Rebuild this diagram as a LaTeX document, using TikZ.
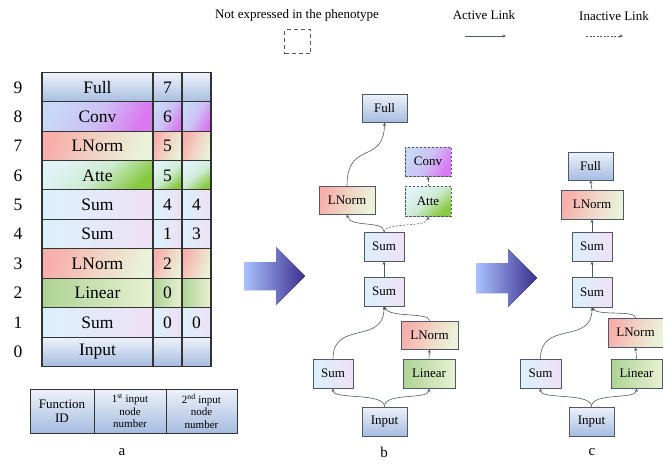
\documentclass[tikz,border=0pt]{standalone}
\usepackage{fontspec}
\setmainfont{Liberation Serif}
\usetikzlibrary{arrows.meta}
\definecolor{fullT}{HTML}{EEF2FA}
\definecolor{fullB}{HTML}{A6BCE0}
\definecolor{sumL}{HTML}{DAF1FB}
\definecolor{sumR}{HTML}{EFE0F5}
\definecolor{lnL}{HTML}{F8AEAA}
\definecolor{lnR}{HTML}{EAF3DA}
\definecolor{linL}{HTML}{AED396}
\definecolor{linR}{HTML}{E8F1D2}
\definecolor{atL}{HTML}{E0F4F8}
\definecolor{atR}{HTML}{86C83E}
\definecolor{cvL}{HTML}{C8D8F6}
\definecolor{cvR}{HTML}{DA78F0}
\definecolor{edge}{HTML}{4E586A}
\definecolor{arrL}{HTML}{AAC2FF}
\definecolor{arrR}{HTML}{3A2F8E}
\tikzset{
  fullsh/.style={top color=fullT, bottom color=fullB},
  sumsh/.style={left color=sumL, right color=sumR},
  lnsh/.style={left color=lnL, right color=lnR, middle color=lnL!45!lnR, shading angle=70},
  linsh/.style={left color=linL, right color=linR},
  atsh/.style={left color=atL, right color=atR, middle color=atL!80!atR, shading angle=40},
  cvsh/.style={left color=cvL, right color=cvR, middle color=cvL!75!cvR, shading angle=60},
  gnode/.style={draw=edge, line width=0.8pt, inner sep=0pt, font=\fontsize{13}{15}\selectfont},
  hid/.style={gnode, dashed, dash pattern=on 2.5pt off 1.5pt},
  link/.style={draw=edge, line width=0.6pt, -{Stealth[length=3.5pt,width=3pt]}},
  ilink/.style={link, dash pattern=on 2pt off 1.5pt},
  cell/.style={draw=black!80, line width=1.1pt, inner sep=0pt, font=\fontsize{17.5}{20}\selectfont},
  rowno/.style={font=\fontsize{17.5}{20}\selectfont},
  bigarrow/.style={left color=arrL, right color=arrR, draw=none},
}
\begin{document}
\begin{tikzpicture}[x=1pt,y=-1pt]
\useasboundingbox (0,0) rectangle (663,464);
% ---------- legend ----------
\node[font=\fontsize{13}{15}\selectfont] (lg1) at (297,15) {Not expressed in the phenotype};
\node[draw=edge, line width=0.8pt, dash pattern=on 4pt off 3pt, minimum width=26pt, minimum height=24pt, inner sep=0pt] (lgbox) at (297.5,41.5) {};
\node[font=\fontsize{13}{15}\selectfont] (lg2) at (484,15) {Active Link};
\coordinate (a1) at (465,36); \coordinate (a2) at (506,36);
\draw[link] (a1) -- (a2);
\node[font=\fontsize{13}{15}\selectfont] (lg3) at (614,16) {Inactive Link};
\coordinate (i1) at (586,36); \coordinate (i2) at (623,36);
\draw[ilink] (i1) -- (i2);
% ---------- table a ----------
\foreach \r/\y/\f/\sh/\p/\q in {9/87.5/Full/fullsh/7/, 8/116.5/Conv/cvsh/6/, 7/146/LNorm/lnsh/5/, 6/175.5/Atte/atsh/5/, 5/204.5/Sum/sumsh/4/4, 4/234/Sum/sumsh/1/3, 3/263.5/LNorm/lnsh/2/, 2/293/Linear/linsh/0/, 1/322.5/Sum/sumsh/0/0, 0/352/Input/fullsh//}{
  \node[cell, \sh, minimum width=111pt, minimum height=29.4pt] (f\r) at (97.5,\y) {\f};
  \node[cell, \sh, minimum width=29pt, minimum height=29.4pt] (p\r) at (167.5,\y) {\p};
  \node[cell, \sh, minimum width=29pt, minimum height=29.4pt] (q\r) at (196.5,\y) {\q};
  \node[rowno] (n\r) at (18,\y) {\r};
}
% legend table
\node[cell, fullsh, line width=1pt, minimum width=64pt, minimum height=44pt, align=center, font=\fontsize{13}{14.5}\selectfont] (lt1) at (62,411) {Function\\ID};
\node[cell, fullsh, line width=1pt, minimum width=72pt, minimum height=44pt, align=center, font=\fontsize{11}{12.5}\selectfont] (lt2) at (130,411) {1\textsuperscript{st} input\\node\\number};
\node[cell, fullsh, line width=1pt, minimum width=71pt, minimum height=44pt, align=center, font=\fontsize{11}{12.5}\selectfont] (lt3) at (201.5,411) {2\textsuperscript{nd} input\\node\\number};
\node[font=\fontsize{15}{17}\selectfont] (la) at (122,452) {a};
% ---------- big arrows ----------
\fill[bigarrow] (244,262) -- (276,262) -- (276,247) -- (305,276) -- (276,305) -- (276,290) -- (244,290) -- cycle;
\fill[bigarrow] (476,263) -- (508,263) -- (508,249) -- (537,278) -- (508,307) -- (508,293) -- (476,293) -- cycle;
% ---------- graph b ----------
\node[gnode, fullsh, minimum width=45pt, minimum height=28pt] (bFull) at (384.5,108) {Full};
\node[hid, cvsh, minimum width=46pt, minimum height=29pt] (bConv) at (428,161.5) {Conv};
\node[gnode, lnsh, minimum width=56pt, minimum height=28pt] (bLN1) at (347,200) {LNorm};
\node[hid, atsh, minimum width=46pt, minimum height=30pt] (bAtte) at (428,201) {Atte};
\node[gnode, sumsh, minimum width=40pt, minimum height=29pt] (bSum3) at (384,246.5) {Sum};
\node[gnode, sumsh, minimum width=40pt, minimum height=29pt] (bSum2) at (384,291.5) {Sum};
\node[gnode, lnsh, minimum width=57pt, minimum height=28pt] (bLN2) at (429.5,335) {LNorm};
\node[gnode, sumsh, minimum width=40pt, minimum height=29pt] (bSum1) at (333,373.5) {Sum};
\node[gnode, linsh, minimum width=52pt, minimum height=29pt] (bLin) at (429,373.5) {Linear};
\node[gnode, fullsh, minimum width=45pt, minimum height=29pt] (bIn) at (384.5,421.5) {Input};
\node[font=\fontsize{15}{17}\selectfont] (lb) at (384,452) {b};
\draw[link] (bIn.north) .. controls (384,392) and (333,400) .. (bSum1.south);
\draw[link] (bIn.north) .. controls (384,392) and (429,400) .. (bLin.south);
\draw[link] (bSum1.north) .. controls (333,320) and (384,345) .. (bSum2.south);
\draw[link] (bLin.north) -- (bLN2.south);
\draw[link] (bLN2.north) .. controls (429,312) and (390,318) .. (bSum2.south);
\draw[link] (bSum2.north) -- (bSum3.south);
\draw[link] (bSum3.north) .. controls (384,220) and (350,228) .. (bLN1.south);
\draw[ilink] (bSum3.north) .. controls (384,222) and (428,228) .. (bAtte.south);
\draw[ilink] (bAtte.north) -- (bConv.south);
\draw[link] (bLN1.north) .. controls (347,140) and (384,165) .. (bFull.south);
% ---------- graph c ----------
\node[gnode, fullsh, minimum width=45pt, minimum height=28pt] (cFull) at (590.5,166) {Full};
\node[gnode, lnsh, minimum width=62pt, minimum height=29pt] (cLN1) at (592,204.5) {LNorm};
\node[gnode, sumsh, minimum width=40pt, minimum height=29pt] (cSum3) at (592,246.5) {Sum};
\node[gnode, sumsh, minimum width=40pt, minimum height=30pt] (cSum2) at (592,292) {Sum};
\node[gnode, lnsh, minimum width=55pt, minimum height=29pt] (cLN2) at (635.5,332.5) {LNorm};
\node[gnode, sumsh, minimum width=41pt, minimum height=29pt] (cSum1) at (540.5,373.5) {Sum};
\node[gnode, linsh, minimum width=51pt, minimum height=29pt] (cLin) at (636.5,373.5) {Linear};
\node[gnode, fullsh, minimum width=45pt, minimum height=29pt] (cIn) at (591.5,421.5) {Input};
\node[font=\fontsize{15}{17}\selectfont] (lc) at (592,452) {c};
\draw[link] (cIn.north) .. controls (591.5,392) and (540.5,400) .. (cSum1.south);
\draw[link] (cIn.north) .. controls (591.5,392) and (636.5,400) .. (cLin.south);
\draw[link] (cSum1.north) .. controls (540.5,320) and (592,345) .. (cSum2.south);
\draw[link] (cLin.north) -- (cLN2.south);
\draw[link] (cLN2.north) .. controls (635.5,310) and (598,316) .. (cSum2.south);
\draw[link] (cSum2.north) -- (cSum3.south);
\draw[link] (cSum3.north) -- (cLN1.south);
\draw[link] (cLN1.north) -- (cFull.south);
\end{tikzpicture}
\end{document}
